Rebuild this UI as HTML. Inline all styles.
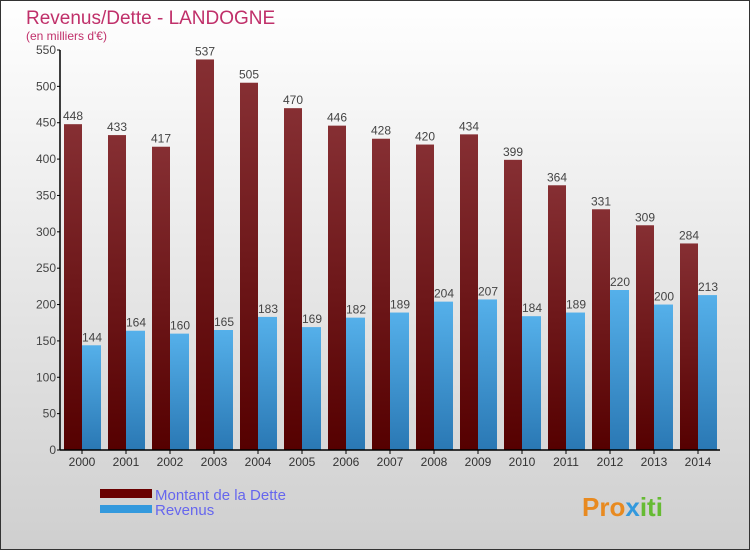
<!DOCTYPE html>
<html><head><meta charset="utf-8"><style>
body{margin:0;width:750px;height:550px;overflow:hidden;font-family:"Liberation Sans",sans-serif}
svg{display:block}
</style></head><body>
<svg id="c" width="750" height="550" xmlns="http://www.w3.org/2000/svg">
<defs>
<linearGradient id="bg" x1="0" y1="0" x2="0" y2="1"><stop offset="0" stop-color="#ffffff"/><stop offset="1" stop-color="#cfcfcf"/></linearGradient>
<linearGradient id="gd" x1="0" y1="0" x2="0" y2="1"><stop offset="0" stop-color="#862f33"/><stop offset="1" stop-color="#550000"/></linearGradient>
<linearGradient id="gr" x1="0" y1="0" x2="0" y2="1"><stop offset="0" stop-color="#55b0ea"/><stop offset="1" stop-color="#2a78b4"/></linearGradient>
</defs>
<rect x="0.5" y="0.5" width="749" height="549" fill="url(#bg)" stroke="#333"/>
<text x="26" y="24" font-size="19" fill="#c0306a">Revenus/Dette - LANDOGNE</text>
<text x="26" y="40" font-size="12" fill="#c0306a">(en milliers d'€)</text>
<g id="plot"></g>
<rect x="100" y="489" width="52" height="9" fill="#6a0000"/>
<text x="155" y="500" font-size="15" fill="#6666ee">Montant de la Dette</text>
<rect x="100" y="505" width="52" height="8" fill="#3399dd"/>
<text x="155" y="515" font-size="15" fill="#6666ee">Revenus</text>
<text x="582" y="516" font-size="26" font-weight="bold" fill="#e88a20">Pro<tspan fill="#3399dd">x</tspan><tspan fill="#66bb33">iti</tspan></text>
</svg>
<script>
const years=["2000","2001","2002","2003","2004","2005","2006","2007","2008","2009","2010","2011","2012","2013","2014"];
const dette=[448,433,417,537,505,470,446,428,420,434,399,364,331,309,284];
const revenus=[144,164,160,165,183,169,182,189,204,207,184,189,220,200,213];
const ticks=[0,50,100,150,200,250,300,350,400,450,500,550];
const NS="http://www.w3.org/2000/svg";
const g=document.getElementById('plot');
const y0=450,yMax=550,ph=400,x0=60,step=44;
const Y=v=>y0-v/yMax*ph;
const X=i=>x0+22+i*step;
function mk(t,a,txt){const e=document.createElementNS(NS,t);for(const k in a)e.setAttribute(k,a[k]);if(txt!==undefined)e.textContent=txt;g.appendChild(e);return e;}
years.forEach((yr,i)=>{
 const cx=X(i);
 const b1=mk('rect',{x:cx-18,y:Y(dette[i]),width:18,height:y0-Y(dette[i]),fill:'url(#gd)'});
 
 
 const b2=mk('rect',{x:cx,y:Y(revenus[i]),width:19,height:y0-Y(revenus[i]),fill:'url(#gr)'});
 
 
 const l1=mk('text',{x:cx-9,y:Y(dette[i])-4,'font-size':12,fill:'#444','text-anchor':'middle'},dette[i]);
 
 
 const l2=mk('text',{x:cx+10,y:Y(revenus[i])-4,'font-size':12,fill:'#444','text-anchor':'middle'},revenus[i]);
 
 
 const tk=mk('line',{x1:cx,x2:cx,y1:y0,y2:y0+4,stroke:'#000'});
 
 
 const xl=mk('text',{x:cx,y:y0+16,'font-size':12,fill:'#333','text-anchor':'middle'},yr);
 
 
});
ticks.forEach(t=>{
 const tl=mk('line',{x1:x0-3,x2:x0,y1:Y(t),y2:Y(t),stroke:'#000'});
 
 
 const lb=mk('text',{x:x0-4,y:Y(t)+4,'font-size':12,fill:'#444','text-anchor':'end'},t);
 
 
});
const ya=mk('line',{x1:x0,x2:x0,y1:Y(yMax),y2:y0,stroke:'#000','stroke-width':1.5});


const xa=mk('line',{x1:x0,x2:720,y1:y0,y2:y0,stroke:'#000','stroke-width':1.5});


</script>
</body></html>
